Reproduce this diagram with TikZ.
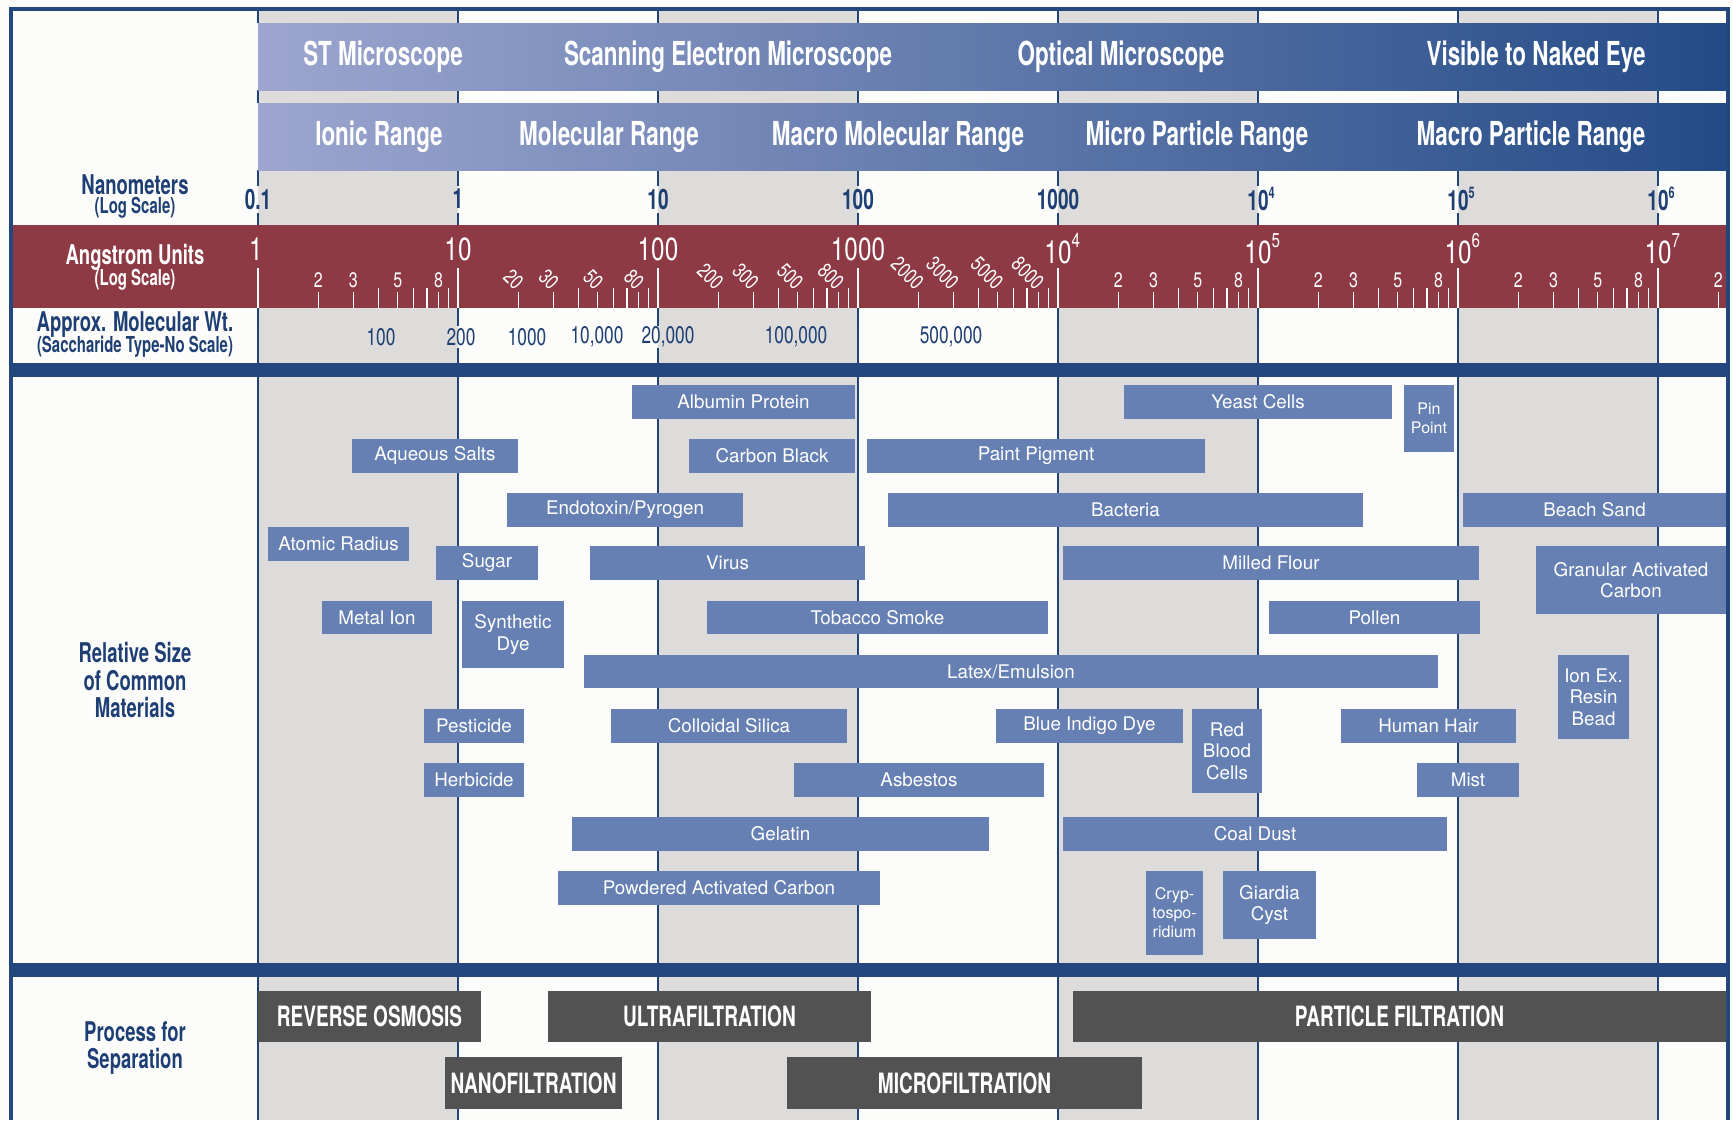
\documentclass[tikz,border=0pt]{standalone}
\usepackage{fontspec}
\setmainfont{TeX Gyre Heros}
\newfontfamily\cond[FakeStretch=0.68]{TeX Gyre Heros}
\newfontfamily\condm[FakeStretch=0.72]{TeX Gyre Heros}
\newfontfamily\condl[FakeStretch=0.76]{TeX Gyre Heros}
\definecolor{frameblue}{HTML}{24487D}
\definecolor{lineblue}{HTML}{1F4479}
\definecolor{txtblue}{HTML}{1E3F74}
\definecolor{colgray}{HTML}{DDDCDA}
\definecolor{bgwhite}{HTML}{FCFCFA}
\definecolor{redband}{HTML}{8E3A45}
\definecolor{matblue}{HTML}{6780B3}
\definecolor{procgray}{HTML}{525252}
\definecolor{bandL}{HTML}{9CA6CF}
\definecolor{bandR}{HTML}{244B87}
\newcommand\nsup[1]{\raisebox{0.45em}{\fontsize{8}{9}\selectfont #1}}
\newcommand\asup[1]{\raisebox{0.5em}{\fontsize{10}{11}\selectfont #1}}
\newcommand{\matbox}[7][mat]{\node[#1, minimum width={(#5-#3)*0.5pt}, minimum height={(#6-#4)*0.5pt}] (#2) at ({(#3+#5)/2},{(#4+#6)/2}) {#7};}
\begin{document}
\begin{tikzpicture}[x=0.5pt,y=-0.5pt,
  band/.style={text=white, font=\cond\bfseries\fontsize{16.5}{18}\selectfont, inner sep=0pt},
  lefth/.style={text=txtblue, font=\cond\bfseries\fontsize{13.6}{13.8}\selectfont, inner sep=0pt},
  leftsub/.style={text=txtblue, font=\cond\bfseries\fontsize{11}{12}\selectfont, inner sep=0pt},
  nmlab/.style={text=txtblue, font=\cond\bfseries\fontsize{14}{15}\selectfont, inner sep=0pt},
  anglab/.style={text=white, font=\condl\fontsize{16}{18}\selectfont, inner sep=0pt},
  smalllab/.style={text=white, font=\condl\fontsize{10.5}{12}\selectfont, inner sep=0pt},
  mwlab/.style={text=txtblue, font=\condm\fontsize{12}{14}\selectfont, inner sep=0pt},
  mat/.style={fill=matblue, text=white, inner sep=0pt, align=center, font=\fontsize{9.4}{10.8}\selectfont},
  matsmall/.style={mat, font=\fontsize{8}{9.5}\selectfont},
  proc/.style={fill=procgray, text=white, inner sep=0pt, font=\cond\bfseries\fontsize{14}{16}\selectfont},
  decline/.style={draw=lineblue, line width=1pt},
  tick/.style={draw=white, line width=0.6pt}]
\useasboundingbox (0,0) rectangle (1733,1120);
\fill[bgwhite] (0,0) rectangle (1733,1120);
% columns
\foreach \dd in {0,2,4,6} \fill[colgray] ({258+200*\dd},10) rectangle ({458+200*\dd},1120);
% decade lines
\foreach \dd in {0,...,7}{
  \pgfmathsetmacro\lx{258+200*\dd}
  \draw[decline] (\lx,10) -- (\lx,23);
  \draw[decline] (\lx,90) -- (\lx,103);
  \draw[decline] (\lx,170) -- (\lx,186);
  \draw[decline] (\lx,213) -- (\lx,225);
  \draw[decline] (\lx,377) -- (\lx,963);
  \draw[decline] (\lx,977) -- (\lx,1120);
}
\foreach \dd in {0,3,4,5,6,7} \draw[decline] ({258+200*\dd},308) -- ({258+200*\dd},363);
\foreach \dd in {1,2}{
  \draw[decline] ({258+200*\dd},308) -- ({258+200*\dd},326);
  \draw[decline] ({258+200*\dd},348) -- ({258+200*\dd},363);
}
% bands
\shade[left color=bandL, right color=bandR] (258,23) rectangle (1726,90);
\shade[left color=bandL, right color=bandR] (258,103) rectangle (1726,170);
\fill[redband] (12,225) rectangle (1726,308);
\fill[frameblue] (12,363) rectangle (1726,377);
\fill[frameblue] (12,963) rectangle (1726,977);
\draw[frameblue, line width=2pt] (10.5,1120) -- (10.5,8.5) -- (1728,8.5) -- (1728,1120);
% angstrom ticks
\foreach \i in {0,...,6}{
  \foreach \k in {2,...,9}{
    \pgfmathsetmacro\tx{258+200*\i+200*log10(\k)}
    \pgfmathsetmacro\ty{(\k==2||\k==3||\k==5||\k==8)?292:288}
    \draw[tick] (\tx,\ty) -- (\tx,308);
  }
}
\draw[tick] ({1658+200*log10(2)},292) -- ({1658+200*log10(2)},308);
\foreach \dd in {0,...,7} \draw[draw=white, line width=1pt] ({258+200*\dd},268) -- ({258+200*\dd},308);
\foreach \i in {0,4,5,6} \foreach \k in {2,3,5,8}
  \node[smalllab] (u\i-\k) at ({258+200*\i+200*log10(\k)},280) {\k};
\node[smalllab] (u7-2) at ({1658+200*log10(2)},280) {2};
\foreach \i/\z in {1/0,2/00,3/000} \foreach \k in {2,3,5,8}
  \node[smalllab, rotate=-45, anchor=east] (r\i-\k) at ({258+200*\i+200*log10(\k)+2},286) {\k\z};
% left labels
\node[lefth] (nm) at (135,185) {Nanometers};
\node[leftsub] (nmls) at (135,208) {(Log Scale)};
\node[lefth, text=white] (ang) at (135,257) {Angstrom Units};
\node[leftsub, text=white] (angls) at (135,280) {(Log Scale)};
\node[lefth] (mw) at (135,325) {Approx. Molecular Wt.};
\node[leftsub] (mwsub) at (135,347) {(Saccharide Type-No Scale)};
\node[lefth, align=center] (rel) at (135,680) {Relative Size\\of Common\\Materials};
\node[lefth, align=center] (sep) at (135,1048) {Process for\\Separation};
% band texts
\node[band] (st) at (383,57) {ST Microscope};
\node[band] (sem) at (728,57) {Scanning Electron Microscope};
\node[band] (om) at (1121,57) {Optical Microscope};
\node[band] (vis) at (1536,57) {Visible to Naked Eye};
\node[band] (ion) at (379,137) {Ionic Range};
\node[band] (mol) at (609,137) {Molecular Range};
\node[band] (mmol) at (898,137) {Macro Molecular Range};
\node[band] (mic) at (1197,137) {Micro Particle Range};
\node[band] (mac) at (1531,137) {Macro Particle Range};
% nanometer labels
\node[nmlab] (n0) at (258,199) {0.1};
\node[nmlab] (n1) at (458,199) {1};
\node[nmlab] (n2) at (658,199) {10};
\node[nmlab] (n3) at (858,199) {100};
\node[nmlab] (n4) at (1058,199) {1000};
\node[nmlab] (n5) at (1258,199) {10\rlap{\nsup{4}}};
\node[nmlab] (n6) at (1458,199) {10\rlap{\nsup{5}}};
\node[nmlab] (n7) at (1658,199) {10\rlap{\nsup{6}}};
% angstrom labels
\node[anglab] (a0) at (256,249) {1};
\node[anglab] (a1) at (458,249) {10};
\node[anglab] (a2) at (658,249) {100};
\node[anglab] (a3) at (858,249) {1000};
\node[anglab] (a4) at (1058,249) {10\rlap{\asup{4}}};
\node[anglab] (a5) at (1258,249) {10\rlap{\asup{5}}};
\node[anglab] (a6) at (1458,249) {10\rlap{\asup{6}}};
\node[anglab] (a7) at (1658,249) {10\rlap{\asup{7}}};
% molecular weight
\node[mwlab] (mw1) at (381,337) {100};
\node[mwlab] (mw2) at (461,337) {200};
\node[mwlab] (mw3) at (527,337) {1000};
\node[mwlab] (mw4) at (597,337) {10,000};
\node[mwlab] (mw5) at (668,337) {20,000};
\node[mwlab] (mw6) at (796,337) {100,000};
\node[mwlab] (mw7) at (951,337) {500,000};
% materials
\matbox{albumin}{632}{385}{855}{419}{Albumin Protein}
\matbox{yeast}{1124}{385}{1392}{419}{Yeast Cells}
\matbox[matsmall]{pin}{1404}{385}{1454}{452}{Pin\\Point}
\matbox{aqueous}{352}{439}{518}{473}{Aqueous Salts}
\matbox{carbon}{689}{439}{855}{473}{Carbon Black}
\matbox{paint}{867}{439}{1205}{473}{Paint Pigment}
\matbox{endo}{507}{493}{743}{527}{Endotoxin/Pyrogen}
\matbox{bact}{888}{493}{1363}{527}{Bacteria}
\matbox{beach}{1463}{493}{1726}{527}{Beach Sand}
\matbox{atomic}{268}{527}{409}{561}{Atomic Radius}
\matbox{sugar}{436}{546}{538}{580}{Sugar}
\matbox{virus}{590}{546}{865}{580}{Virus}
\matbox{flour}{1063}{546}{1479}{580}{Milled Flour}
\matbox{gac}{1536}{546}{1726}{614}{Granular Activated\\Carbon}
\matbox{metal}{322}{601}{432}{634}{Metal Ion}
\matbox{dye}{462}{601}{564}{668}{Synthetic\\Dye}
\matbox{tobacco}{707}{601}{1048}{634}{Tobacco Smoke}
\matbox{pollen}{1269}{601}{1480}{634}{Pollen}
\matbox{latex}{584}{655}{1438}{688}{Latex/Emulsion}
\matbox{ionex}{1558}{655}{1629}{739}{Ion Ex.\\Resin\\Bead}
\matbox{pest}{424}{709}{524}{743}{Pesticide}
\matbox{silica}{611}{709}{847}{743}{Colloidal Silica}
\matbox{indigo}{996}{709}{1183}{743}{Blue Indigo Dye}
\matbox{rbc}{1192}{709}{1262}{793}{Red\\Blood\\Cells}
\matbox{hair}{1341}{709}{1516}{743}{Human Hair}
\matbox{herb}{424}{763}{524}{797}{Herbicide}
\matbox{asb}{794}{763}{1044}{797}{Asbestos}
\matbox{mist}{1417}{763}{1519}{797}{Mist}
\matbox{gel}{572}{817}{989}{851}{Gelatin}
\matbox{coal}{1063}{817}{1447}{851}{Coal Dust}
\matbox{pac}{558}{871}{880}{905}{Powdered Activated Carbon}
\matbox[matsmall]{crypto}{1146}{871}{1203}{955}{Cryp-\\tospo-\\ridium}
\matbox{giardia}{1223}{871}{1316}{939}{Giardia\\Cyst}
% processes
\matbox[proc]{ro}{258}{991}{481}{1042}{REVERSE OSMOSIS}
\matbox[proc]{uf}{548}{991}{871}{1042}{ULTRAFILTRATION}
\matbox[proc]{pf}{1073}{991}{1726}{1042}{PARTICLE FILTRATION}
\matbox[proc]{nf}{445}{1057}{622}{1109}{NANOFILTRATION}
\matbox[proc]{mf}{787}{1057}{1142}{1109}{MICROFILTRATION}
\end{tikzpicture}
\end{document}
